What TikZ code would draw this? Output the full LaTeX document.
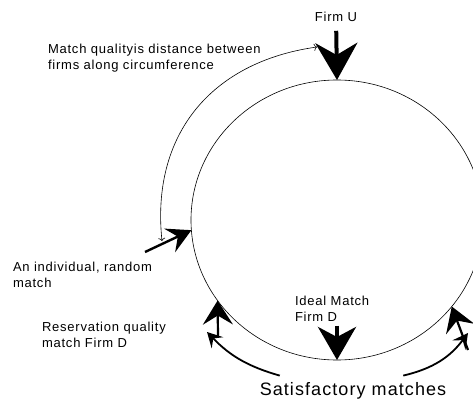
\documentclass[tikz,border=0pt]{standalone}
\usepackage{fontspec}
\setmainfont[LetterSpace=6]{Liberation Sans}
\usetikzlibrary{arrows.meta,shapes.geometric}

\begin{document}
\begin{tikzpicture}[x=1pt, y=1pt,
	every node/.style={font=\fontsize{13}{16}\selectfont, inner sep=0pt, outer sep=0pt, align=left},
	firmarrow/.style={line width=4pt, -{Stealth[length=37pt,width=42pt,inset=12pt]}},
	matcharrow/.style={line width=2.4pt, -{Stealth[length=24pt,width=26pt,inset=9pt]}},
	resarrow/.style={line width=2.2pt, -{Stealth[length=24pt,width=30pt,inset=9pt]}},
	satarrow/.style={line width=1.8pt, -{Stealth[length=15pt,width=16pt,inset=6pt]}},
	qualityarc/.style={line width=0.6pt, {To[length=3pt,width=7pt]}-{To[length=3pt,width=7pt]}}]
	\clip (0,0) rectangle (473,-403);
	\node[draw, ellipse, line width=0.6pt, minimum width=292pt, minimum height=280pt] (circ) at (337,-220) {};
	\node (firmU) at (336,-17) {Firm U};
	\node[anchor=west] (quality) at (48,-58) {Match qualityis distance between\\firms along circumference};
	\node[anchor=west] (random) at (13,-274.5) {An individual, random\\match};
	\node[anchor=west] (reserve) at (42,-335) {Reservation quality\\match Firm D};
	\node[anchor=west] (ideal) at (295,-309) {Ideal Match\\Firm D};
	\node[font=\fontsize{18}{22}\selectfont] (sat) at (353,-391) {Satisfactory matches};
	\coordinate (arcA) at (162,-241);
	\coordinate (arcB) at (317,-47);
	\coordinate (randtail) at (145,-252);
	\coordinate (resL) at (218,-337);
	\coordinate (resR) at (468,-350);
	\coordinate (satL) at (207,-332);
	\coordinate (satR) at (468,-333);
	\draw[firmarrow, shorten <=9pt] (firmU) -- (circ.north);
	\draw[firmarrow, -{Stealth[length=33pt,width=38pt,inset=10pt]}, shorten <=4pt] (ideal.south -| circ.south) -- (circ.south);
	\draw[qualityarc] (arcA) to[out=96, in=188, looseness=1.1] (arcB);
	\draw[matcharrow] (randtail) -- (circ.184.7);
	\draw[resarrow] (resL) -- (circ.214);
	\draw[resarrow] (resR) -- (circ.323);
	\draw[satarrow] ([xshift=20pt, yshift=7pt]sat.north west) to[bend left=15] (satL);
	\draw[satarrow] ([xshift=-43pt, yshift=7pt]sat.north east) to[bend right=20] (satR);
\end{tikzpicture}
\end{document}
